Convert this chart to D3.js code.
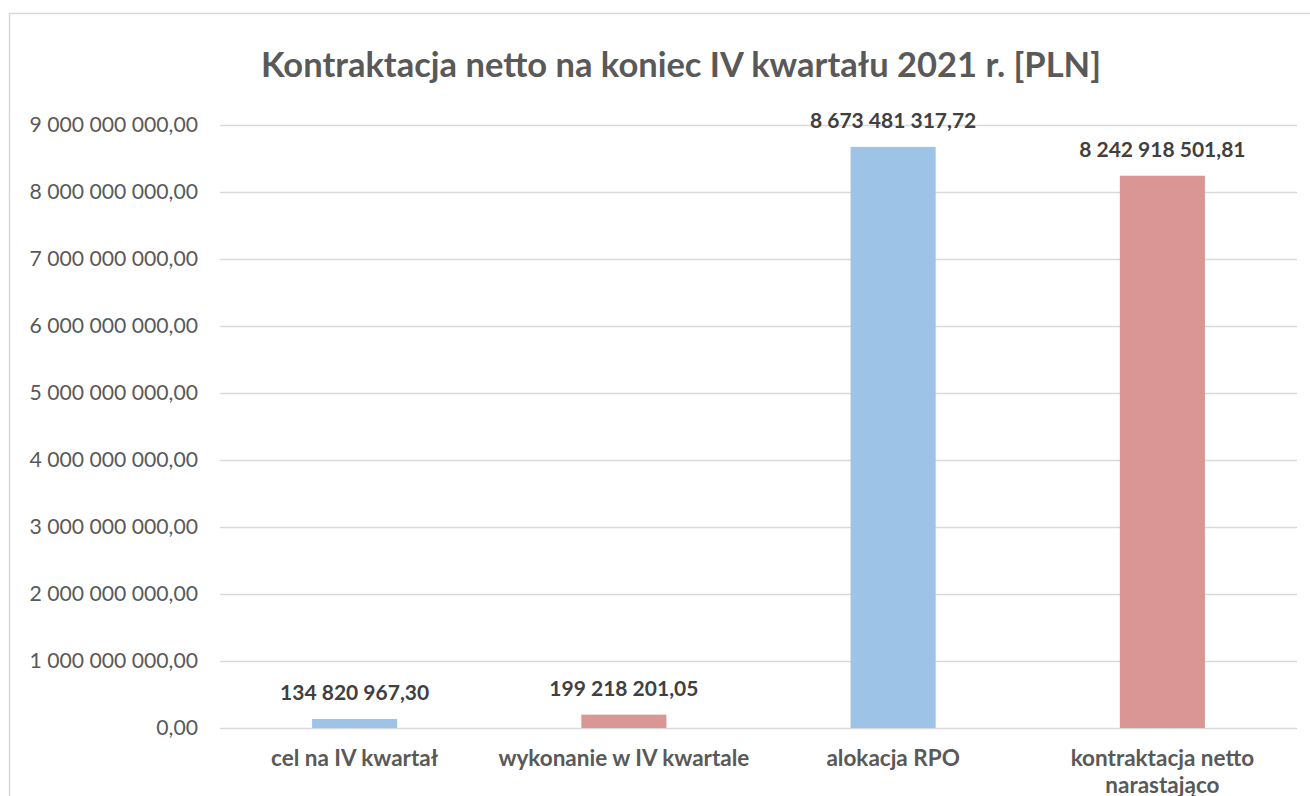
<!DOCTYPE html>
<html>
<head>
<meta charset="utf-8">
<script src="https://cdn.jsdelivr.net/npm/d3@7"></script>
<style>
  body { margin: 0; background: #fff; }
  text { font-family: Lato, "Open Sans", sans-serif; }
</style>
</head>
<body>
<svg id="chart"></svg>
<script>
const categories = ['cel na IV kwartał', 'wykonanie w IV kwartale', 'alokacja RPO', 'kontraktacja netto narastająco'];
const values = [134820967.30, 199218201.05, 8673481317.72, 8242918501.81];
const barColors = ['#9dc3e6', '#da9694', '#9dc3e6', '#da9694'];
const yTicks = [0, 1e9, 2e9, 3e9, 4e9, 5e9, 6e9, 7e9, 8e9, 9e9];
const title = 'Kontraktacja netto na koniec IV kwartału 2021 r. [PLN]';

const w = 1310;
const h = 796;
const plotLeft = 220, plotRight = 1297, plotTop = 125, plotBottom = 728;

const pl = d3.formatLocale({decimal: ',', thousands: '\u00a0', grouping: [3], currency: ['', '']});
const fmt = pl.format(',.2f');

const svg = d3.select('#chart').attr('width', w).attr('height', h);

// chart frame
svg.append('rect')
  .attr('x', 9.5).attr('y', 13.5)
  .attr('width', w + 20).attr('height', h + 20)
  .attr('fill', 'none').attr('stroke', '#d9d9d9').attr('stroke-width', 1.5);

svg.append('text')
  .attr('x', 681).attr('y', 77)
  .attr('text-anchor', 'middle')
  .attr('font-size', 34.5).attr('font-weight', 'bold')
  .attr('fill', '#595959')
  .text(title);

const xScale = d3.scaleBand()
  .domain(categories)
  .range([plotLeft, plotRight])
  .paddingInner(0.684)
  .paddingOuter(0.342);

const yScale = d3.scaleLinear()
  .domain([0, 9e9])
  .range([plotBottom, plotTop]);

// grid + y labels
const yAxis = d3.axisLeft(yScale)
  .tickValues(yTicks)
  .tickSize(-(plotRight - plotLeft))
  .tickPadding(22)
  .tickFormat(fmt);

svg.append('g')
  .attr('transform', 'translate(' + plotLeft + ',0)')
  .call(yAxis)
  .call(g => g.select('.domain').remove())
  .call(g => g.selectAll('.tick line').attr('stroke', '#d9d9d9').attr('stroke-width', 1.5))
  .call(g => g.selectAll('.tick text')
    .attr('font-size', 21.2).attr('fill', '#595959')
    .attr('font-family', 'Lato, "Open Sans", sans-serif'));

// bars
svg.selectAll('rect.bar')
  .data(values)
  .enter()
  .append('rect')
  .attr('class', 'bar')
  .attr('x', (d, i) => xScale(categories[i]))
  .attr('width', xScale.bandwidth())
  .attr('y', d => yScale(d))
  .attr('height', d => plotBottom - yScale(d))
  .attr('fill', (d, i) => barColors[i]);

// value labels
svg.selectAll('text.val')
  .data(values)
  .enter()
  .append('text')
  .attr('class', 'val')
  .attr('x', (d, i) => xScale(categories[i]) + xScale.bandwidth() / 2)
  .attr('y', d => yScale(d) - 19)
  .attr('text-anchor', 'middle')
  .attr('font-size', 21).attr('font-weight', 'bold')
  .attr('fill', '#404040')
  .text(d => fmt(d));

// category labels, wrapped
const xAxis = d3.axisBottom(xScale).tickSize(0).tickPadding(0);
svg.append('g')
  .attr('transform', 'translate(0,' + plotBottom + ')')
  .call(xAxis)
  .call(g => g.select('.domain').remove())
  .call(g => g.selectAll('.tick text')
    .attr('font-size', 22.5).attr('font-weight', 'bold')
    .attr('fill', '#595959')
    .attr('font-family', 'Lato, "Open Sans", sans-serif')
    .attr('dy', null)
    .attr('y', 38)
    .each(function(d) { wrap(d3.select(this), 262); }));

function wrap(text, width) {
  const words = text.text().split(' ');
  text.text(null);
  let line = [];
  let tspan = text.append('tspan').attr('x', 0).attr('dy', 0);
  words.forEach(word => {
    line.push(word);
    tspan.text(line.join(' '));
    if (tspan.node().getComputedTextLength() > width && line.length > 1) {
      line.pop();
      tspan.text(line.join(' '));
      line = [word];
      tspan = text.append('tspan').attr('x', 0).attr('dy', 27).text(word);
    }
  });
}
</script>
</body>
</html>
